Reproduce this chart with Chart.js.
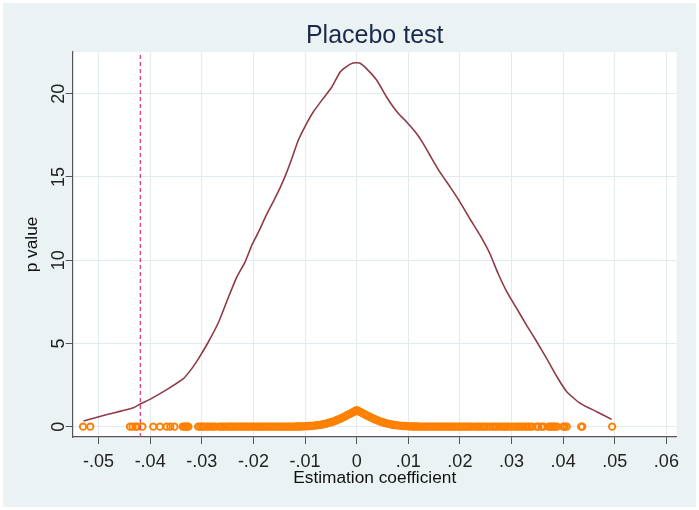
<!DOCTYPE html>
<html>
<head>
<meta charset="utf-8">
<script src="https://cdn.jsdelivr.net/npm/chart.js@4/dist/chart.umd.min.js"></script>
<style>
html,body{margin:0;padding:0;background:#fff;}
#wrap{width:699px;height:510px;}
canvas{display:block;}
</style>
</head>
<body>
<div id="wrap"><canvas id="c" width="699" height="510"></canvas></div>
<script>
// ---- axis ticks ----
const xTicks = [-0.05, -0.04, -0.03, -0.02, -0.01, 0, 0.01, 0.02, 0.03, 0.04, 0.05, 0.06];
const xTickLabels = ['-.05', '-.04', '-.03', '-.02', '-.01', '0', '.01', '.02', '.03', '.04', '.05', '.06'];
const yTicks = [0, 5, 10, 15, 20];
const yTickLabels = ['0', '5', '10', '15', '20'];

// ---- kernel density of placebo estimates ----
const densX = [-0.0529, -0.0487, -0.0455, -0.0432, -0.0419, -0.0397, -0.0364, -0.0335, -0.0319, -0.0306,
  -0.0287, -0.0267, -0.0248, -0.0232, -0.0216, -0.0203, -0.0190, -0.0175, -0.0160, -0.0149,
  -0.0139, -0.0129, -0.0113, -0.0097, -0.0084, -0.0065, -0.0048, -0.0032, -0.0019, -0.0007,
  0.0006, 0.0019, 0.0039, 0.0058, 0.0071, 0.0084, 0.0097, 0.0116, 0.0129, 0.0142,
  0.0161, 0.0181, 0.0200, 0.0219, 0.0239, 0.0258, 0.0274, 0.0291, 0.0310, 0.0329,
  0.0349, 0.0368, 0.0388, 0.0407, 0.0433, 0.0465, 0.0494];
const densY = [0.34, 0.70, 0.95, 1.14, 1.36, 1.70, 2.30, 2.90, 3.50, 4.10,
  5.10, 6.30, 7.80, 9.00, 9.90, 10.9, 11.7, 12.7, 13.6, 14.3,
  15.0, 15.8, 17.2, 18.2, 18.9, 19.7, 20.4, 21.3, 21.64, 21.84,
  21.84, 21.5, 20.8, 19.8, 19.2, 18.7, 18.3, 17.6, 17.0, 16.3,
  15.3, 14.4, 13.5, 12.5, 11.5, 10.4, 9.2, 8.1, 7.1, 6.1,
  5.1, 4.1, 3.0, 2.1, 1.40, 0.90, 0.44];

// ---- placebo estimates with p value ~ 0 (tails) ----
const tailCoefs = [-0.0530, -0.0516, -0.0439, -0.0434, -0.0428, -0.0425, -0.0415, -0.0394, -0.0381, -0.0368,
  -0.0361, -0.0353, -0.0337, -0.0334, -0.0331, -0.0328, -0.0326, -0.0307, -0.0303, -0.0299,
  -0.0296, -0.0290, -0.0287, -0.0282, -0.0278, -0.0274, -0.0266, -0.0263,
  -0.0259, -0.0255, -0.0250, -0.0246, -0.0243, -0.0239, -0.0235, -0.0231, -0.0227, -0.0223,
  -0.0219, -0.0215, -0.0211, -0.0207, -0.0203, -0.0199, -0.0195, -0.0191, -0.0187, -0.0183,
  -0.0179, -0.0175, -0.0171, -0.0167, -0.0163, -0.0159, -0.0155, -0.0151, -0.0147, -0.0143,
  -0.0139, -0.0135, -0.0132,
  0.0133, 0.0137, 0.0141, 0.0145, 0.0149, 0.0153, 0.0157, 0.0161, 0.0165, 0.0169,
  0.0173, 0.0177, 0.0181, 0.0185, 0.0189, 0.0193, 0.0197, 0.0201, 0.0205, 0.0209,
  0.0213, 0.0217, 0.0221, 0.0226, 0.0231, 0.0235, 0.0239, 0.0244, 0.0248, 0.0252,
  0.0257, 0.0263, 0.0267, 0.0271, 0.0276, 0.0281, 0.0285, 0.0289, 0.0293, 0.0298,
  0.0304, 0.0309, 0.0313, 0.0318, 0.0322, 0.0327, 0.0331, 0.0335, 0.0340,
  0.0349, 0.0352, 0.0358, 0.0362, 0.0372, 0.0375, 0.0378, 0.0381, 0.0384, 0.0388,
  0.0400, 0.0403, 0.0407, 0.0435, 0.0437, 0.0495];
const tailP = 0;

// ---- placebo estimates near zero with their p values ----
const peakCoefs = [-0.0128, -0.0124, -0.0120, -0.0117, -0.0113, -0.0109, -0.0105, -0.0101, -0.0097, -0.0094,
  -0.0090, -0.0086, -0.0082, -0.0078, -0.0075, -0.0071, -0.0067, -0.0063, -0.0059, -0.0056,
  -0.0052, -0.0048, -0.0044, -0.0040, -0.0037, -0.0033, -0.0029, -0.0025, -0.0021, -0.0018,
  -0.0014, -0.0010, -0.0006, -0.0003, 0.0000, 0.0003, 0.0007, 0.0011, 0.0015, 0.0018,
  0.0022, 0.0026, 0.0030, 0.0034, 0.0037, 0.0041, 0.0045, 0.0049, 0.0052, 0.0056,
  0.0060, 0.0064, 0.0068, 0.0071, 0.0075, 0.0079, 0.0083, 0.0087, 0.0090, 0.0094,
  0.0098, 0.0102, 0.0106, 0.0109, 0.0113, 0.0117, 0.0121, 0.0125, 0.0129];
const peakP = [0.00, 0.00, 0.00, 0.01, 0.01, 0.01, 0.02, 0.02, 0.03, 0.04,
  0.04, 0.05, 0.06, 0.08, 0.09, 0.11, 0.13, 0.15, 0.18, 0.21,
  0.25, 0.28, 0.32, 0.37, 0.42, 0.46, 0.52, 0.58, 0.64, 0.70,
  0.75, 0.82, 0.88, 0.94, 0.99, 0.94, 0.88, 0.82, 0.75, 0.70,
  0.64, 0.58, 0.52, 0.46, 0.42, 0.37, 0.32, 0.28, 0.25, 0.21,
  0.18, 0.15, 0.13, 0.11, 0.09, 0.08, 0.06, 0.05, 0.04, 0.04,
  0.03, 0.02, 0.02, 0.01, 0.01, 0.01, 0.00, 0.00, 0.00];

// ---- actual estimate (reference line) ----
const actualCoef = -0.0419;

// ---- axis ranges ----
const xRange = [-0.055, 0.062];
const yRange = [-0.62, 22.5];

const FONT = "'Liberation Sans', Arial, Helvetica, sans-serif";
Chart.defaults.font.family = FONT;

const densData = densX.map((x, i) => ({x: x, y: densY[i]}));
const scatterData = tailCoefs.map(x => ({x: x, y: tailP}))
  .concat(peakCoefs.map((x, i) => ({x: x, y: peakP[i]})));
const refData = [{x: actualCoef, y: yRange[0]}, {x: actualCoef, y: yRange[1]}];

const bgPlugin = {
  id: 'bg',
  beforeDraw(chart) {
    const {ctx, chartArea: a, width, height} = chart;
    ctx.save();
    ctx.fillStyle = '#ffffff';
    ctx.fillRect(0, 0, width, height);
    ctx.fillStyle = '#EAF2F3';
    ctx.fillRect(3, 3, width - 6, height - 6);
    ctx.fillStyle = '#ffffff';
    ctx.fillRect(a.left, a.top, a.right - a.left, a.bottom - a.top);
    ctx.restore();
  }
};

new Chart(document.getElementById('c'), {
  type: 'scatter',
  data: {
    datasets: [
      {
        type: 'line',
        data: refData,
        borderColor: '#E0336E',
        borderWidth: 1.2,
        borderDash: [4, 3],
        pointRadius: 0,
        fill: false,
        order: 0
      },
      {
        type: 'line',
        data: densData,
        borderColor: '#8E3B46',
        borderWidth: 1.6,
        pointRadius: 0,
        tension: 0.15,
        fill: false,
        order: 1
      },
      {
        type: 'scatter',
        data: scatterData,
        pointStyle: 'circle',
        pointRadius: 3.2,
        borderWidth: 1.9,
        borderColor: '#FF8000',
        backgroundColor: 'rgba(0,0,0,0)',
        order: 2
      }
    ]
  },
  options: {
    responsive: false,
    devicePixelRatio: 1,
    animation: false,
    events: [],
    layout: {padding: {top: 15, right: 22.3, left: 0, bottom: 0}},
    plugins: {
      legend: {display: false},
      tooltip: {enabled: false},
      title: {
        display: true,
        text: 'Placebo test',
        fullSize: false,
        color: '#1B2A4A',
        font: {family: FONT, size: 25, weight: 'normal'},
        padding: {top: 6.6, bottom: 0.4}
      }
    },
    scales: {
      x: {
        type: 'linear',
        position: 'bottom',
        min: xRange[0],
        max: xRange[1],
        afterBuildTicks: s => { s.ticks = xTicks.map(v => ({value: v})); },
        afterFit: s => { s.height = 73; },
        ticks: {
          callback: (v, i) => xTickLabels[i],
          font: {family: FONT, size: 18},
          color: '#222222',
          padding: 7,
          maxRotation: 0,
          minRotation: 0,
          autoSkip: false
        },
        grid: {color: '#E2EBEF', lineWidth: 1, tickColor: '#555555', tickLength: 7, drawTicks: true},
        border: {color: '#555555', width: 1.2},
        title: {
          display: true,
          text: 'Estimation coefficient',
          color: '#111111',
          font: {family: FONT, size: 17.3},
          padding: {top: 0, bottom: 21.8}
        }
      },
      y: {
        type: 'linear',
        position: 'left',
        min: yRange[0],
        max: yRange[1],
        afterBuildTicks: s => { s.ticks = yTicks.map(v => ({value: v})); },
        afterFit: s => { s.width = 72.7; },
        ticks: {
          callback: (v, i) => yTickLabels[i],
          font: {family: FONT, size: 18},
          color: '#222222',
          padding: -3,
          minRotation: 90,
          maxRotation: 90,
          crossAlign: 'center',
          autoSkip: false
        },
        grid: {color: '#E2EBEF', lineWidth: 1, tickColor: '#555555', tickLength: 7, drawTicks: true},
        border: {color: '#555555', width: 1.2},
        title: {
          display: true,
          text: 'p value',
          color: '#111111',
          font: {family: FONT, size: 17.3},
          padding: {top: 22, bottom: 0}
        }
      }
    }
  },
  plugins: [bgPlugin]
});
</script>
</body>
</html>
